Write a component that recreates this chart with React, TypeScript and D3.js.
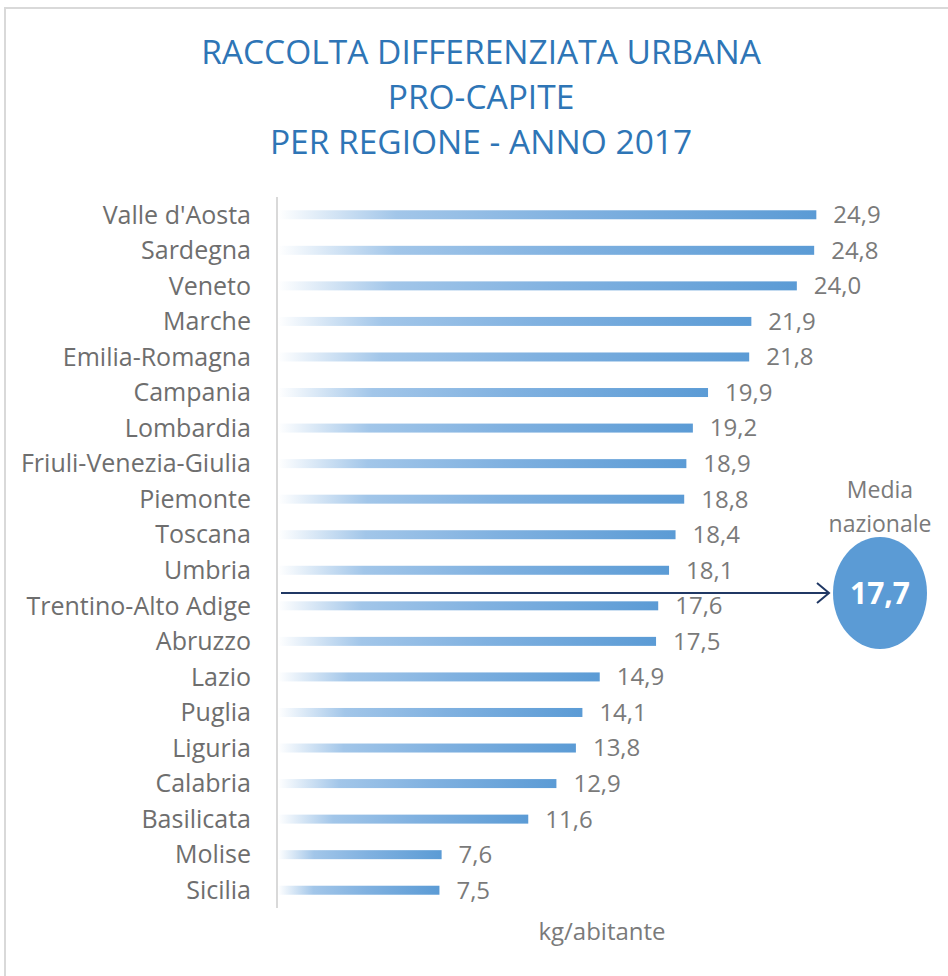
import React from "react";
import * as d3 from "d3";

// dati: raccolta differenziata urbana pro-capite (kg/abitante), 2017
const regions = [
  "Valle d'Aosta",
  "Sardegna",
  "Veneto",
  "Marche",
  "Emilia-Romagna",
  "Campania",
  "Lombardia",
  "Friuli-Venezia-Giulia",
  "Piemonte",
  "Toscana",
  "Umbria",
  "Trentino-Alto Adige",
  "Abruzzo",
  "Lazio",
  "Puglia",
  "Liguria",
  "Calabria",
  "Basilicata",
  "Molise",
  "Sicilia",
];
const values = [
  24.9, 24.8, 24.0, 21.9, 21.8, 19.9, 19.2, 18.9, 18.8, 18.4, 18.1, 17.6,
  17.5, 14.9, 14.1, 13.8, 12.9, 11.6, 7.6, 7.5,
];
const mediaNazionale = 17.7;
const titleLines = [
  "RACCOLTA DIFFERENZIATA URBANA",
  "PRO-CAPITE",
  "PER REGIONE - ANNO 2017",
];

const W = 948,
  H = 976;
const FONT = "'Open Sans', 'Noto Sans', sans-serif";
const fmt = (v: number) => v.toFixed(1).replace(".", ",");

const App = () => {
  const x = d3.scaleLinear().domain([0, 25]).range([277, 818.5]);
  const y = d3.scalePoint<string>().domain(regions).range([197, 908]).padding(0.5);
  const step = y.step();
  const barH = 9;

  // la freccia della media sta fra Umbria e Trentino-Alto Adige
  const yMedia = (y("Umbria") as number) + step * 0.64;
  const cx = 880;

  return (
    <svg
      width={W}
      height={H}
      style={{ position: "absolute", left: 0, top: 0, background: "#fff" }}
      fontFamily={FONT}
    >
      <defs>
        <linearGradient id="barGrad" x1="0" x2="1" y1="0" y2="0">
          <stop offset="0%" stopColor="#ffffff" />
          <stop offset="22%" stopColor="#a2c6e9" />
          <stop offset="55%" stopColor="#80b1e0" />
          <stop offset="100%" stopColor="#5b9bd5" />
        </linearGradient>
      </defs>

      <rect x={5} y={8} width={W + 20} height={H + 20} fill="none" stroke="#d9d9d9" strokeWidth={2} />

      {titleLines.map((t, i) => (
        <text key={t} x={481} y={64 + i * 45} textAnchor="middle" fontSize={33.5} fill="#2e75b6">
          {t}
        </text>
      ))}

      <line x1={x(0)} x2={x(0)} y1={197} y2={908} stroke="#d9d9d9" strokeWidth={2} />

      {regions.map((r, i) => {
        const cy = y(r) as number;
        return (
          <g key={r}>
            <text x={251} y={cy} dy="0.35em" textAnchor="end" fontSize={25} fill="#6e6e6e">
              {r}
            </text>
            <rect
              x={x(0) + 1}
              y={cy - barH / 2}
              width={x(values[i]) - x(0) - 1}
              height={barH}
              fill="url(#barGrad)"
            />
            <text x={x(values[i]) + 17} y={cy} dy="0.35em" fontSize={24} fill="#7a7a7a">
              {fmt(values[i])}
            </text>
          </g>
        );
      })}

      <line x1={281} x2={829} y1={yMedia} y2={yMedia} stroke="#203864" strokeWidth={2} />
      <polyline
        points={`817,${yMedia - 10} 829,${yMedia} 817,${yMedia + 10}`}
        fill="none"
        stroke="#203864"
        strokeWidth={2}
      />
      <ellipse cx={cx} cy={yMedia} rx={47} ry={56} fill="#5b9bd5" />
      <text x={cx} y={yMedia} dy="0.36em" textAnchor="middle" fontSize={30} fontWeight="bold" fill="#fff">
        {fmt(mediaNazionale)}
      </text>
      <text x={cx} y={498} textAnchor="middle" fontSize={23} fill="#7a7a7a">
        Media
      </text>
      <text x={cx} y={532} textAnchor="middle" fontSize={23} fill="#7a7a7a">
        nazionale
      </text>

      <text x={602} y={940} textAnchor="middle" fontSize={24} fill="#7a7a7a">
        kg/abitante
      </text>
    </svg>
  );
};

export default App;
